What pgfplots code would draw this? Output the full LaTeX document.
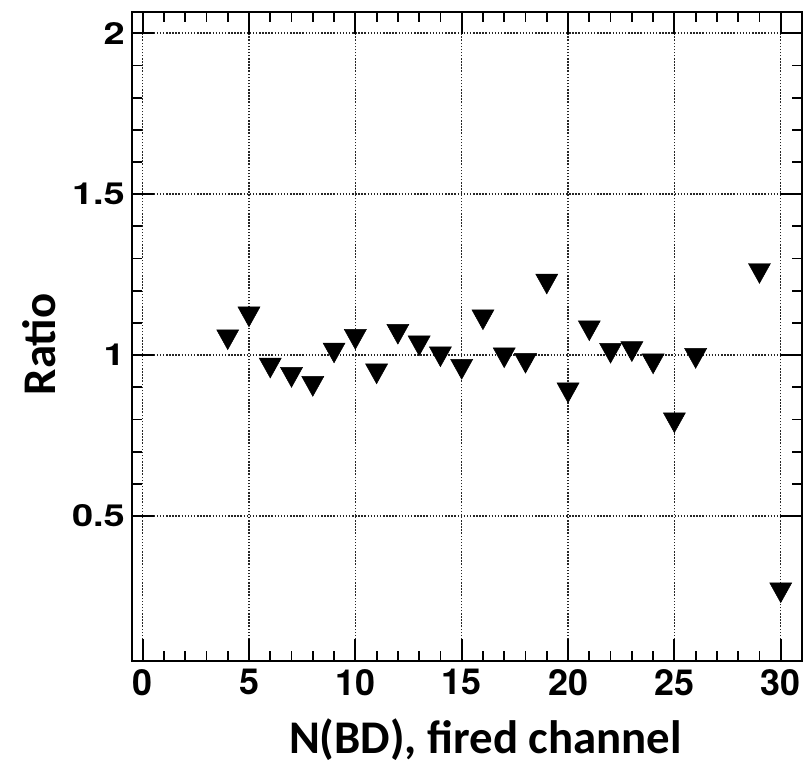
\documentclass[border=0pt]{standalone}
\usepackage{pgfplots}
\pgfplotsset{compat=1.18}
\usepackage{fontspec}
\setmainfont{Carlito}
\newfontfamily\heros{TeX Gyre Heros}
\newfontfamily\herosw[FakeStretch=1.25]{TeX Gyre Heros}
\pgfdeclareplotmark{tridown}{%
 \pgfpathmoveto{\pgfpoint{-\pgfplotmarksize}{0.9\pgfplotmarksize}}%
 \pgfpathlineto{\pgfpoint{\pgfplotmarksize}{0.9\pgfplotmarksize}}%
 \pgfpathlineto{\pgfpoint{0pt}{-0.9\pgfplotmarksize}}%
 \pgfpathclose\pgfusepathqfillstroke}
\begin{document}
\begin{tikzpicture}
\begin{axis}[
  scale only axis,
  width=670bp, height=649bp,
  xmin=-0.5, xmax=31,
  ymin=0.05, ymax=2.066,
  xtick={0,5,...,30},
  minor x tick num=4,
  ytick={0.5,1,1.5,2},
  minor y tick num=4,
  tick align=inside,
  xtick pos=both, ytick pos=both,
  major tick length=22bp,
  minor tick length=10.5bp,
  axis line style={line width=1.8bp},
  every tick/.style={line width=1.8bp, black},
  grid=major,
  major grid style={dash pattern=on 1.5bp off 1.6bp, line width=1.5bp, black!85},
  /pgf/number format/assume math mode=true,
  ticklabel style={inner sep=0pt},
  xticklabel style={font=\fontsize{36}{38}\selectfont\heros\bfseries, anchor=north, yshift=-8bp},
  yticklabel style={font=\fontsize{30.5}{32}\selectfont\herosw\bfseries, anchor=east, xshift=-7bp},
  clip=false,
]
\addplot[only marks, mark=tridown, mark size=11bp, mark options={fill=black, draw=black, line width=0.5bp}] coordinates {
(4,1.048) (5,1.119) (6,0.960) (7,0.931) (8,0.903) (9,1.007) (10,1.049)
(11,0.942) (12,1.065) (13,1.029) (14,0.995) (15,0.956) (16,1.110)
(17,0.992) (18,0.975) (19,1.221) (20,0.883) (21,1.076) (22,1.006)
(23,1.011) (24,0.973) (25,0.790) (26,0.990) (29,1.254) (30,0.262)
};
\node[anchor=base, font=\fontsize{47}{50}\selectfont\bfseries] at (axis description cs:0.5276,-0.1418) {N(BD), fired channel};
\node[anchor=base, rotate=90, font=\fontsize{47}{50}\selectfont\bfseries] at (axis description cs:-0.1149,0.4877) {Ratio};
\end{axis}
\pgfresetboundingbox
\path[use as bounding box] (-132bp,-103bp) rectangle (671bp,661bp);
\end{tikzpicture}
\end{document}
